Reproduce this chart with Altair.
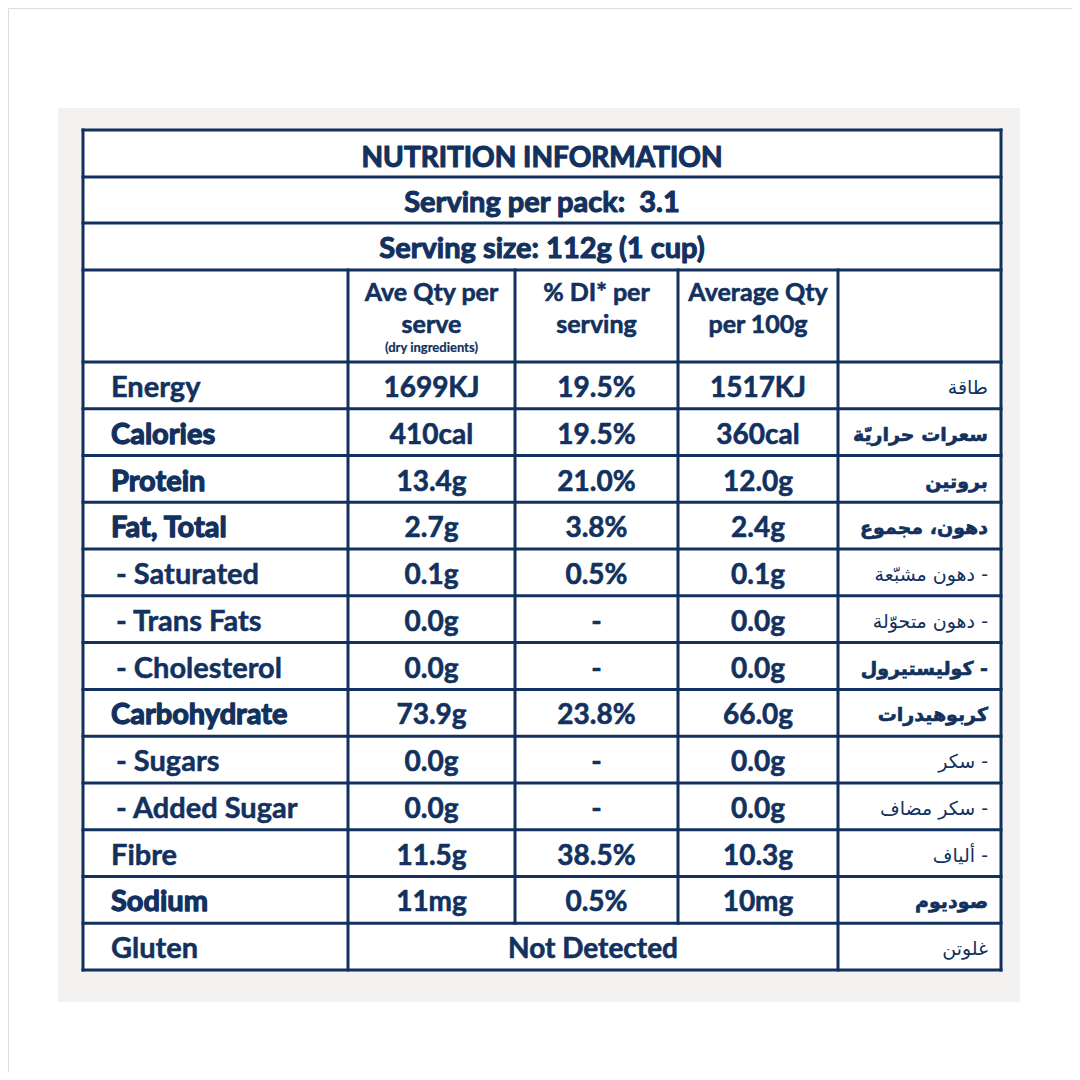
import altair as alt
import pandas as pd

NAVY = "#12315e"
EN_FONT = "Lato"
AR_FONT = "DejaVu Sans"

# ---------------- data ----------------
title = "NUTRITION INFORMATION"
serving_pack = "Serving per pack:\u00a0\u00a03.1"
serving_size = "Serving size: 112g (1 cup)"
head_line1 = ["Ave Qty per", "% DI* per", "Average Qty"]
head_line2 = ["serve", "serving", "per 100g"]
head_note = "(dry ingredients)"

nutrients = ["Energy", "Calories", "Protein", "Fat, Total", "- Saturated", "- Trans Fats",
             "- Cholesterol", "Carbohydrate", "- Sugars", "- Added Sugar", "Fibre", "Sodium", "Gluten"]
label_bold = [False, True, True, True, False, False, False, True, False, False, False, True, False]
label_sub = [False, False, False, False, True, True, True, False, True, True, False, False, False]
per_serve = ["1699KJ", "410cal", "13.4g", "2.7g", "0.1g", "0.0g", "0.0g", "73.9g", "0.0g", "0.0g",
             "11.5g", "11mg"]
di_serving = ["19.5%", "19.5%", "21.0%", "3.8%", "0.5%", "-", "-", "23.8%", "-", "-", "38.5%", "0.5%"]
per_100g = ["1517KJ", "360cal", "12.0g", "2.4g", "0.1g", "0.0g", "0.0g", "66.0g", "0.0g", "0.0g",
            "10.3g", "10mg"]
gluten_value = "Not Detected"
arabic = ["طاقة", "سعرات حراريّة", "بروتين", "دهون، مجموع", "دهون مشبّعة -", "دهون متحوّلة -",
          "كوليستيرول -", "كربوهيدرات", "سكر -", "سكر مضاف -", "ألياف -", "صوديوم", "غلوتن"]
arabic_bold = [False, True, True, True, False, False, True, True, False, False, False, True, False]

# ---------------- layout (pixel grid of the label) ----------------
COL = [83, 348, 515, 678, 838, 1001]
TOP = [130, 177, 223, 270, 362]
N = len(nutrients)
ROW_H = (970 - 362) / N
ROWS = TOP + [362 + ROW_H * (i + 1) for i in range(N)]

xs = alt.Scale(domain=[8, 1072], range=[0, 1064])
ys = alt.Scale(domain=[8, 1072], range=[0, 1064])


def X(f="x"):
    return alt.X(f"{f}:Q", scale=xs, axis=None)


def Y(f="y"):
    return alt.Y(f"{f}:Q", scale=ys, axis=None)


layers = []

# backgrounds
bg = pd.DataFrame({"x": [58, COL[0]], "x2": [1020, COL[-1]], "y": [108, ROWS[0]], "y2": [1002, ROWS[-1]],
                   "c": ["#f3f2f0", "#ffffff"]})
layers.append(alt.Chart(bg).mark_rect().encode(
    x=X(), x2="x2:Q", y=Y(), y2="y2:Q", color=alt.Color("c:N", scale=None)))

# grid lines
h = pd.DataFrame({"y": ROWS, "x": COL[0], "x2": COL[-1]})
v_rows = []
for i, cx in enumerate(COL):
    if i in (0, len(COL) - 1):
        v_rows.append({"x": cx, "y": ROWS[0], "y2": ROWS[-1]})
    elif i in (1, 4):
        v_rows.append({"x": cx, "y": ROWS[3], "y2": ROWS[-1]})
    else:
        v_rows.append({"x": cx, "y": ROWS[3], "y2": ROWS[-2]})
v = pd.DataFrame(v_rows)
layers.append(alt.Chart(h).mark_rule(color=NAVY, strokeWidth=3, strokeCap="square").encode(
    x=X(), x2="x2:Q", y=Y()))
layers.append(alt.Chart(v).mark_rule(color=NAVY, strokeWidth=3, strokeCap="square").encode(
    x=X(), y=Y(), y2="y2:Q"))


def text_layer(df, size, weight, align="center", font=EN_FONT, sw=0.0):
    kw = dict(color=NAVY, fontSize=size, fontWeight=weight, font=font, align=align, baseline="alphabetic")
    if sw > 0:
        kw.update(stroke=NAVY, strokeWidth=sw, strokeJoin="round")
    return alt.Chart(df).mark_text(**kw).encode(x=X(), y=Y(), text="t:N")


mid = (COL[0] + COL[-1]) / 2
centers = [(COL[i] + COL[i + 1]) / 2 for i in range(1, 4)]

# title rows
layers.append(text_layer(pd.DataFrame({"x": [mid], "y": [ROWS[0] + 37], "t": [title]}), 28, 700, sw=1.1))
layers.append(text_layer(pd.DataFrame({"x": [mid, mid], "y": [ROWS[1] + 35, ROWS[2] + 35],
                                       "t": [serving_pack, serving_size]}), 29, 700, sw=1.1))

# column headers
hdr = pd.DataFrame({"x": centers * 2, "y": [ROWS[3] + 31] * 3 + [ROWS[3] + 63] * 3,
                    "t": head_line1 + head_line2})
layers.append(text_layer(hdr, 25, 700, sw=0.6))
layers.append(text_layer(pd.DataFrame({"x": [centers[0]], "y": [ROWS[3] + 82], "t": [head_note]}), 13, 700,
                         sw=0.2))

# nutrient labels
base = [ROWS[4 + i] + 35 for i in range(N)]
lab = pd.DataFrame({"x": [116 if s else 111 for s in label_sub], "y": base, "t": nutrients,
                    "b": label_bold})
layers.append(text_layer(lab[lab.b], 29, 700, "left", sw=1.3))
layers.append(text_layer(lab[~lab.b], 29, 700, "left", sw=0.5))

# values
vals = pd.DataFrame({
    "x": [centers[0]] * 12 + [centers[1]] * 12 + [centers[2]] * 12,
    "y": base[:12] * 3,
    "t": per_serve + di_serving + per_100g})
layers.append(text_layer(vals, 28, 700, sw=0.6))
layers.append(text_layer(pd.DataFrame({"x": [(COL[1] + COL[4]) / 2], "y": [base[12]], "t": [gluten_value]}),
                         28, 700, sw=0.6))

# arabic labels
ar = pd.DataFrame({"x": 988, "y": [b - 3 for b in base], "t": arabic, "b": arabic_bold})
layers.append(text_layer(ar[ar.b], 19, 700, "right", AR_FONT, sw=0.6))
layers.append(text_layer(ar[~ar.b], 19, 400, "right", AR_FONT))

chart = alt.layer(*layers).properties(
    width=1064, height=1064, padding=0, autosize=alt.AutoSizeParams(type="none")
).configure_view(stroke=None).configure(background="#ffffff")

chart.save("out.html", embed_options={"renderer": "svg", "actions": False})
